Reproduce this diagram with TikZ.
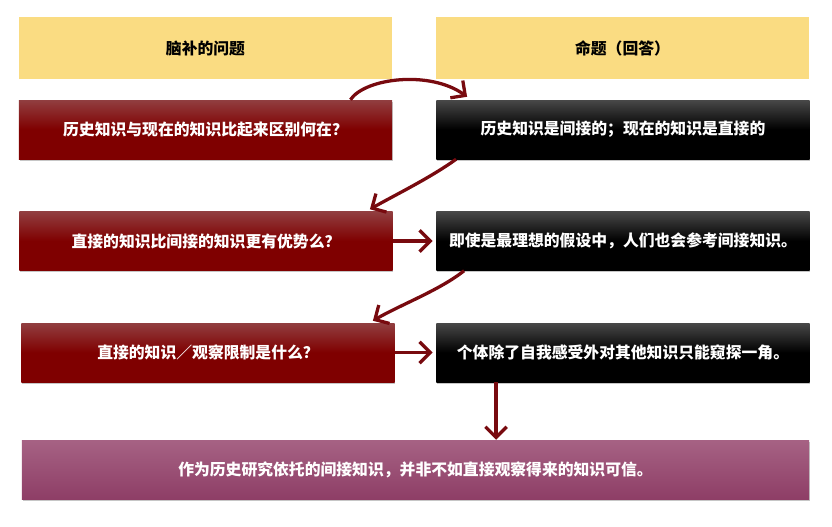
\documentclass[tikz,border=0pt]{standalone}
\usepackage{fontspec}
\setmainfont{Noto Sans CJK SC}
\usetikzlibrary{arrows.meta,shadows,calc}
\definecolor{headyellow}{RGB}{250,220,130}
\definecolor{qred}{RGB}{127,0,0}
\definecolor{qredtop}{RGB}{145,62,64}
\definecolor{ablacktop}{RGB}{72,72,72}
\definecolor{cpurple}{RGB}{142,62,102}
\definecolor{cpurpletop}{RGB}{166,98,132}
\definecolor{linkred}{RGB}{120,10,15}
\begin{document}
\begin{tikzpicture}[x=0.03cm, y=-0.03cm,
  base/.style={minimum width=11.2cm, minimum height=1.77cm, inner sep=0pt,
    font=\fontsize{13.5}{15}\selectfont\bfseries, text=white},
  shade/.style={drop shadow={shadow xshift=0.6pt, shadow yshift=-1.6pt, opacity=0.45}},
  head/.style={base, fill=headyellow, text=black, minimum height=1.86cm},
  question/.style={base, shade, top color=qredtop, bottom color=qred, middle color=qred},
  answer/.style={base, shade, top color=ablacktop, bottom color=black, middle color=black},
  result/.style={base, shade, top color=cpurpletop, bottom color=cpurple, minimum width=23.61cm},
  link/.style={draw=linkred, line width=2.8pt, -{Straight Barb[length=3.2mm, width=6.4mm]}}]
  \useasboundingbox (0,0) rectangle (832,527);
  % column heads
  \node[head] (qhead) at (205.5,48) {脑补的问题};
  \node[head] (ahead) at (622.5,48) {命题（回答）};
  % questions and answers
  \node[question] (q1) at (205.5,129.5) {历史知识与现在的知识比起来区别何在？};
  \node[answer] (a1) at (623,129.5) {历史知识是间接的；现在的知识是直接的};
  \node[question] (q2) at (206,241) {直接的知识比间接的知识更有优势么？};
  \node[answer] (a2) at (623,241) {即使是最理想的假设中，人们也会参考间接知识。};
  \node[question] (q3) at (208,352.5) {直接的知识／观察限制是什么？};
  \node[answer] (a3) at (623,352.5) {个体除了自我感受外对其他知识只能窥探一角。};
  \node[result] (c) at (415.5,469.5) {作为历史研究依托的间接知识，并非不如直接观察得来的知识可信。};
  % links
  \draw[link] ($(q1.north east)+(-42,0)$) .. controls (365,78) and (430,70) .. ($(a1.north west)+(31,-3)$);
  \draw[link] ($(a1.south west)+(20,0)$) .. controls (430,178) and (395,195) .. ($(q2.north east)+(-23,-2)$);
  \draw[link, shorten >=3pt] (q2.east) -- (a2.west);
  \draw[link] ($(a2.south west)+(28,0)$) .. controls (440,290) and (400,305) .. ($(q3.north east)+(-22,-2)$);
  \draw[link, shorten >=3pt] (q3.east) -- (a3.west);
  \coordinate (foot) at ($(a3.south west)+(60,0)$);
  \draw[link] (foot) -- (foot |- c.north);
\end{tikzpicture}
\end{document}
